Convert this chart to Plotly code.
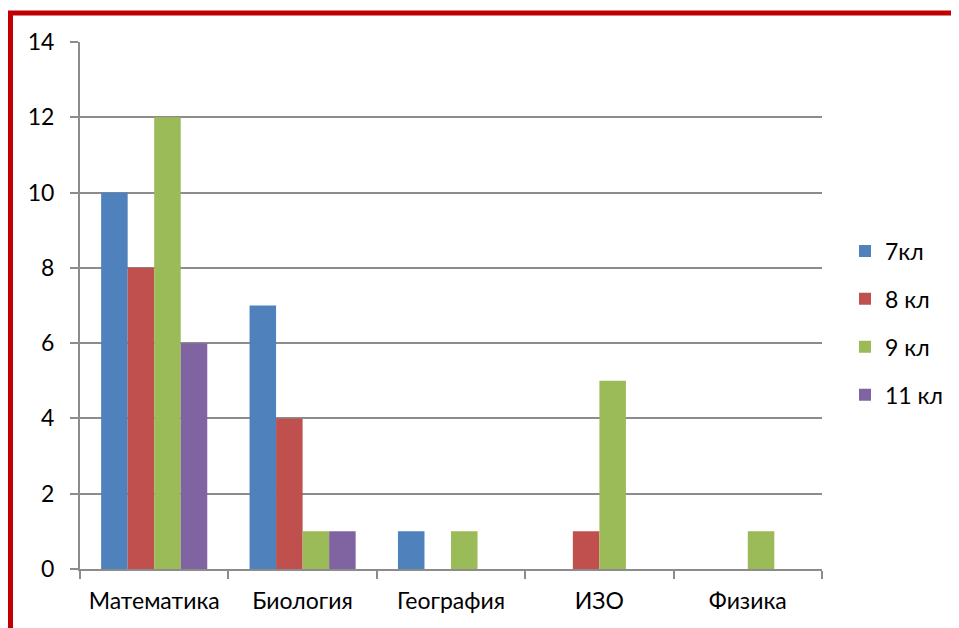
import plotly.graph_objects as go

categories = ["Математика", "Биология", "География", "ИЗО", "Физика"]
series_names = ["7кл", "8 кл", "9 кл", "11 кл"]
s7 = [10, 7, 1, 0, 0]
s8 = [8, 4, 0, 1, 0]
s9 = [12, 1, 1, 5, 1]
s11 = [6, 1, 0, 0, 0]
colors = ["#4F81BD", "#C0504D", "#9BBB59", "#8064A2"]
y_ticks = [0, 2, 4, 6, 8, 10, 12, 14]

W, H = 959, 628
OFF = 8  # page body margin offset
L, T = 80 - OFF, 42 - OFF
R = W - (822 - OFF)
B = H - (569 - OFF)
FONT = "Lato"
FS = 23
GRID = "#8C8C8C"

fig = go.Figure()
for name, vals, col in zip(series_names, [s7, s8, s9, s11], colors):
    fig.add_trace(go.Bar(x=categories, y=vals, name=name, marker_color=col,
                         marker_line_width=0, legendgroup=name))

pw = W - L - R
ph = H - T - B
def px_x(x):
    return (x - OFF - L) / pw
def px_y(y):
    return (H - B - (y - OFF)) / ph

fig.update_layout(
    width=W, height=H,
    margin=dict(l=L, r=R, t=T, b=B, pad=0),
    paper_bgcolor="white", plot_bgcolor="white",
    barmode="group", bargap=0.285, bargroupgap=0,
    font=dict(family=FONT, size=FS, color="#000000"),
    legend=dict(x=px_x(845), xanchor="left", y=px_y(323), yanchor="middle",
                font=dict(family=FONT, size=FS), tracegroupgap=15,
                bgcolor="rgba(0,0,0,0)"),
    xaxis=dict(type="category", showgrid=False, showline=True, linecolor=GRID, linewidth=2,
               ticks="outside", tickson="boundaries", ticklen=8, tickwidth=2, tickcolor=GRID,
               tickfont=dict(family=FONT, size=FS), ticklabelstandoff=10),
    yaxis=dict(range=[0, 14], tickvals=y_ticks, showgrid=True, gridcolor=GRID, gridwidth=2,
               showline=True, linecolor=GRID, linewidth=2, zeroline=False,
               ticks="outside", ticklen=8, tickwidth=2, tickcolor=GRID,
               tickfont=dict(family=FONT, size=FS), ticklabelstandoff=11),
    shapes=[
        dict(type="line", xref="paper", yref="paper", x0=px_x(10.5), x1=px_x(10.5),
             y0=px_y(11), y1=px_y(640), line=dict(color="#C00000", width=5)),
        dict(type="line", xref="paper", yref="paper", x0=px_x(8), x1=px_x(970),
             y0=px_y(13), y1=px_y(13), line=dict(color="#C00000", width=5)),
    ],
)

fig.write_html("out.html")
